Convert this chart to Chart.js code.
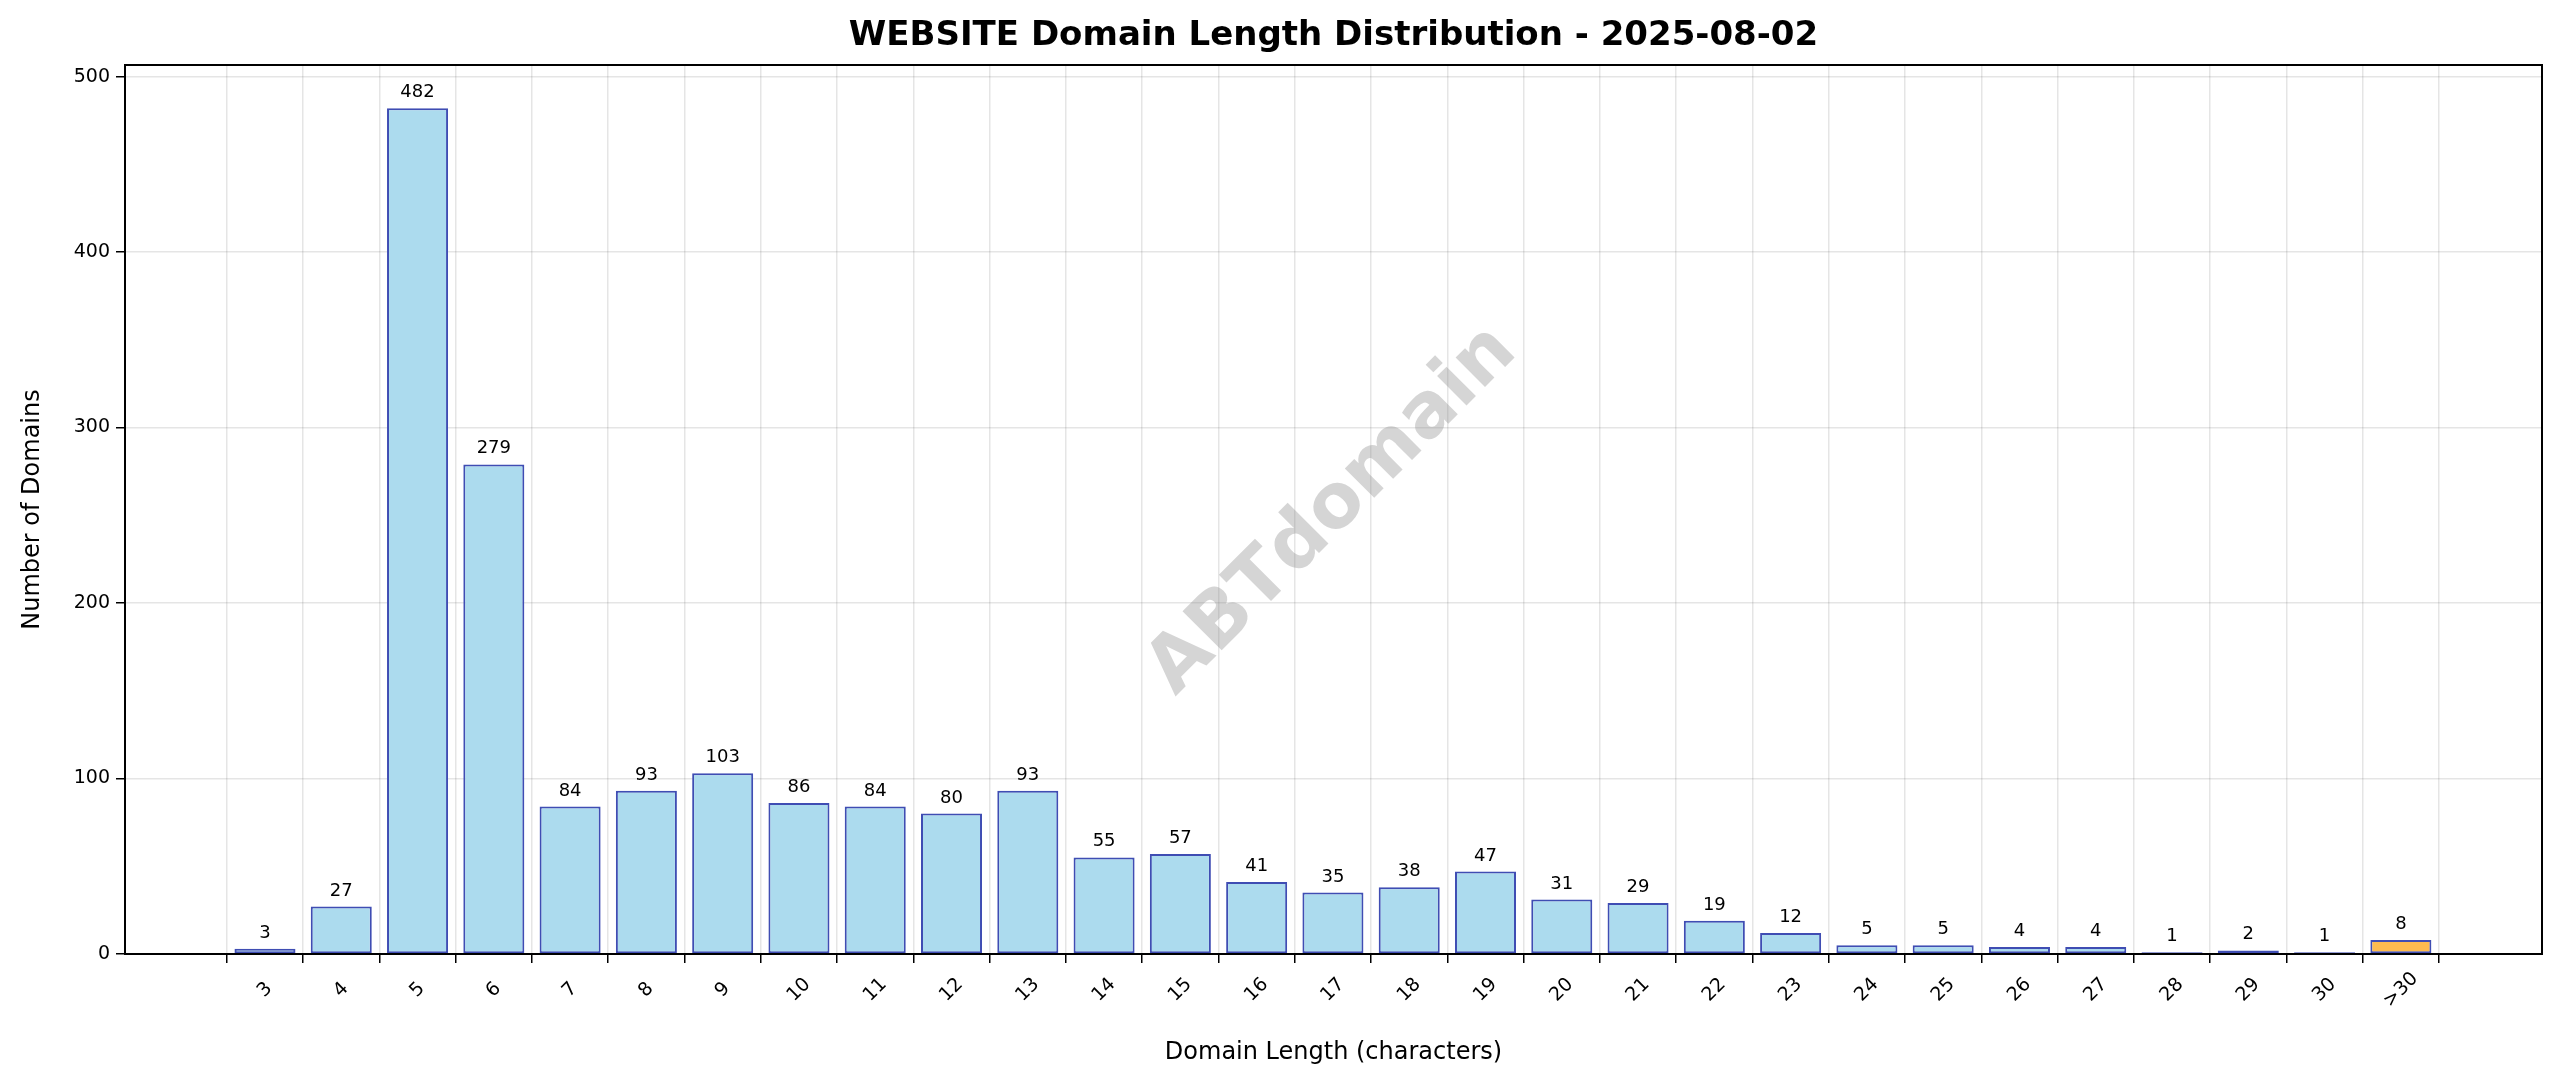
<!DOCTYPE html>
<html>
<head>
<meta charset="utf-8">
<script src="https://cdn.jsdelivr.net/npm/chart.js@4"></script>
<style>
  html, body { margin: 0; padding: 0; background: #fff; }
  #wrap { width: 2560px; height: 1087px; }
</style>
</head>
<body>
<div id="wrap"><canvas id="chart"></canvas></div>
<script>
const lengthLabels = ['3', '4', '5', '6', '7', '8', '9', '10', '11', '12', '13', '14', '15', '16', '17', '18', '19', '20', '21', '22', '23', '24', '25', '26', '27', '28', '29', '30', '>30'];
const domainCounts = [3, 27, 482, 279, 84, 93, 103, 86, 84, 80, 93, 55, 57, 41, 35, 38, 47, 31, 29, 19, 12, 5, 5, 4, 4, 1, 2, 1, 8];
const yTicks = [0, 100, 200, 300, 400, 500];

const FONT = 'DejaVu Sans';
const barColors = lengthLabels.map(l => l === '>30' ? '#fdbb4f' : '#acdbee');

// 标题、坐标轴标题、刻度文字、数值、水印
const overlay = {
  id: 'overlay',
  afterDraw(chart) {
    const { ctx, chartArea: a, scales } = chart;
    const x = scales.x, y = scales.y;
    ctx.save();
    ctx.strokeStyle = '#000';
    ctx.lineWidth = 2;
    ctx.strokeRect(a.left, a.top, a.right - a.left, a.bottom - a.top);

    ctx.fillStyle = '#000';
    ctx.textAlign = 'center';
    ctx.textBaseline = 'middle';
    ctx.font = 'bold 34px ' + FONT;
    ctx.fillText('WEBSITE Domain Length Distribution - 2025-08-02', (a.left + a.right) / 2, 36);

    ctx.font = '24px ' + FONT;
    ctx.fillText('Domain Length (characters)', (a.left + a.right) / 2, 1053);
    ctx.save();
    ctx.translate(33, (a.top + a.bottom) / 2);
    ctx.rotate(-Math.PI / 2);
    ctx.fillText('Number of Domains', 0, 0);
    ctx.restore();

    ctx.font = '19px ' + FONT;
    lengthLabels.forEach((l, i) => {
      ctx.save();
      ctx.translate(x.getPixelForValue(i), a.bottom + 36);
      ctx.rotate(-Math.PI / 4);
      ctx.fillText(l, 0, 0);
      ctx.restore();
    });

    ctx.font = '18px ' + FONT;
    ctx.textBaseline = 'alphabetic';
    domainCounts.forEach((v, i) => {
      ctx.fillText(String(v), x.getPixelForValue(i), y.getPixelForValue(v) - 11);
    });

    ctx.save();
    ctx.translate(1333, 511);
    ctx.rotate(-Math.PI / 4);
    ctx.font = 'bold 76px ' + FONT;
    ctx.textBaseline = 'middle';
    ctx.fillStyle = 'rgba(128,128,128,0.33)';
    ctx.fillText('ABTdomain', 0, 0);
    ctx.restore();
    ctx.restore();
  }
};

new Chart(document.getElementById('chart'), {
  type: 'bar',
  data: {
    datasets: [{
      data: domainCounts.map((v, i) => ({ x: i, y: v })),
      backgroundColor: barColors,
      borderColor: '#3f4db3',
      borderWidth: 2,
      borderSkipped: false,
      barPercentage: 0.8,
      categoryPercentage: 1
    }]
  },
  options: {
    responsive: true, maintainAspectRatio: false, animation: false, devicePixelRatio: 1,
    layout: { padding: { top: 65, right: 18, left: 0, bottom: 0 } },
    plugins: { legend: { display: false }, tooltip: { enabled: false } },
    scales: {
      x: {
        type: 'linear', min: -1.835, max: 28 + 1.85, offset: false,
        afterBuildTicks: s => { s.ticks = lengthLabels.map((l, i) => ({ value: i })); },
        afterFit: s => { s.height = 133; },
        ticks: { display: false },
        grid: { color: 'rgba(0,0,0,0.1)', tickColor: '#000', tickLength: 9, lineWidth: 1.5 },
        border: { color: '#000', width: 2 }
      },
      y: {
        min: 0, max: 506.6,
        afterBuildTicks: s => { s.ticks = yTicks.map(v => ({ value: v })); },
        afterFit: s => { s.width = 125; },
        ticks: { color: '#000', font: { family: FONT, size: 19 }, padding: 6 },
        grid: { color: 'rgba(0,0,0,0.1)', tickColor: '#000', tickLength: 9, lineWidth: 1.5 },
        border: { color: '#000', width: 2 }
      }
    }
  },
  plugins: [overlay]
});
</script>
</body>
</html>
